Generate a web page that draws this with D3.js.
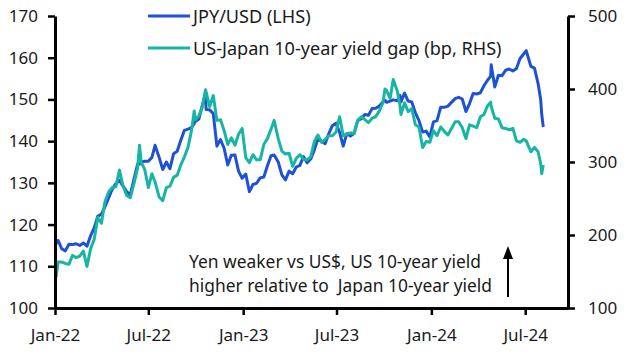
<!DOCTYPE html>
<html>
<head>
<meta charset="utf-8">
<script src="https://cdn.jsdelivr.net/npm/d3@7"></script>
<style>
  html, body { margin: 0; padding: 0; background: #fff; }
  svg { display: block; }
  text { font-family: "Noto Sans", "Open Sans", sans-serif; fill: #1a1a1a; }
</style>
</head>
<body>
<svg id="chart" width="631" height="354"></svg>
<script>
// ---------------- data ----------------
const dates = [
 "2022-01-03","2022-01-07","2022-01-14","2022-01-21","2022-01-28",
 "2022-02-04","2022-02-11","2022-02-18","2022-02-25",
 "2022-03-04","2022-03-11","2022-03-18","2022-03-25",
 "2022-04-01","2022-04-08","2022-04-15","2022-04-22","2022-04-29",
 "2022-05-06","2022-05-13","2022-05-20","2022-05-27",
 "2022-06-03","2022-06-10","2022-06-14","2022-06-17","2022-06-24",
 "2022-07-01","2022-07-08","2022-07-14","2022-07-22","2022-07-29",
 "2022-08-05","2022-08-12","2022-08-19","2022-08-26",
 "2022-09-02","2022-09-09","2022-09-16","2022-09-23","2022-09-28","2022-09-30",
 "2022-10-07","2022-10-14","2022-10-20","2022-10-21","2022-10-28",
 "2022-11-04","2022-11-11","2022-11-18","2022-11-25",
 "2022-12-02","2022-12-09","2022-12-16","2022-12-23","2022-12-30",
 "2023-01-06","2023-01-13","2023-01-20","2023-01-27",
 "2023-02-03","2023-02-10","2023-02-17","2023-02-24",
 "2023-03-02","2023-03-10","2023-03-17","2023-03-24","2023-03-31",
 "2023-04-07","2023-04-14","2023-04-21","2023-04-28",
 "2023-05-05","2023-05-12","2023-05-19","2023-05-26",
 "2023-06-02","2023-06-09","2023-06-16","2023-06-23","2023-06-30",
 "2023-07-07","2023-07-14","2023-07-21","2023-07-28",
 "2023-08-04","2023-08-11","2023-08-18","2023-08-25",
 "2023-09-01","2023-09-08","2023-09-15","2023-09-22","2023-09-29",
 "2023-10-03","2023-10-06","2023-10-13","2023-10-19","2023-10-27",
 "2023-11-01","2023-11-03","2023-11-10","2023-11-17","2023-11-24",
 "2023-12-01","2023-12-08","2023-12-15","2023-12-22","2023-12-29",
 "2024-01-05","2024-01-12","2024-01-19","2024-01-26",
 "2024-02-02","2024-02-09","2024-02-16","2024-02-23",
 "2024-03-01","2024-03-08","2024-03-15","2024-03-22","2024-03-29",
 "2024-04-05","2024-04-12","2024-04-19","2024-04-25","2024-04-26",
 "2024-05-03","2024-05-10","2024-05-17","2024-05-24","2024-05-31",
 "2024-06-07","2024-06-14","2024-06-21","2024-06-28",
 "2024-07-03","2024-07-12","2024-07-19","2024-07-26","2024-07-31",
 "2024-08-02","2024-08-05"
];
// JPY per USD (LHS)
const jpyUsd = [
 115.4,116.2,114.2,113.7,115.3,
 115.2,115.4,115.0,115.6,
 114.8,117.3,119.2,122.0,
 122.5,124.3,126.4,128.5,129.8,
 130.6,129.2,127.9,127.1,
 130.8,134.4,134.5,135.0,135.2,
 135.2,136.1,139.0,136.1,133.2,
 135.0,133.4,137.0,137.6,
 140.2,142.6,142.9,143.3,144.2,144.7,
 145.3,148.7,151.5,147.6,147.5,
 146.6,138.8,140.4,138.3,
 134.3,136.6,136.7,132.8,131.1,
 132.1,127.9,129.6,129.9,
 131.2,131.4,134.1,136.5,
 136.7,135.0,131.9,130.7,132.8,
 132.2,133.8,134.2,136.3,
 134.8,135.7,137.9,140.6,
 140.0,139.4,141.8,143.7,144.3,
 142.1,138.8,141.8,141.2,
 141.8,144.9,145.4,146.4,
 146.2,147.8,147.9,148.4,149.4,
 149.8,149.3,149.6,149.9,149.7,
 151.0,149.4,151.5,149.6,149.4,
 146.8,144.9,142.2,142.4,141.0,
 144.6,144.9,148.1,148.1,
 148.4,149.3,150.2,150.5,
 150.1,147.1,149.0,151.4,151.3,
 151.6,153.3,154.6,155.6,158.3,
 153.0,155.8,155.7,157.0,157.3,
 156.8,157.4,159.8,160.9,
 161.7,157.9,157.5,153.8,150.0,
 146.5,143.4
];
// US-Japan 10-year yield gap, bp (RHS)
const yieldGap = [
 142,163,163,161,160,
 172,169,171,178,
 157,181,194,224,
 216,246,259,265,266,
 289,267,254,251,
 270,291,323,300,290,
 265,284,273,252,247,
 265,267,279,282,
 296,307,320,344,370,358,
 363,376,399,396,376,
 391,357,358,343,
 324,333,323,338,346,
 306,299,310,303,
 303,324,332,345,
 357,332,315,311,312,
 294,305,310,304,
 303,307,328,337,
 327,331,336,336,341,
 362,336,338,340,
 339,357,362,358,
 354,360,362,370,381,
 400,398,387,413,397,
 378,365,381,369,373,
 351,348,320,328,327,
 343,336,348,342,
 337,346,355,355,
 347,332,351,349,347,
 362,365,377,382,376,
 360,359,347,346,344,
 346,329,327,331,
 329,314,320,314,298,
 284,296
];
const leftTicks = [100,110,120,130,140,150,160,170];
const rightTicks = [100,200,300,400,500];
const xTickDates = ["2022-01-01","2022-07-01","2023-01-01","2023-07-01","2024-01-01","2024-07-01"];
const xTickLabels = ["Jan-22","Jul-22","Jan-23","Jul-23","Jan-24","Jul-24"];
const seriesNames = ["JPY/USD (LHS)","US-Japan 10-year yield gap (bp, RHS)"];
const seriesColors = ["#1F52D2","#17B5A3"];
const annotation = ["Yen weaker vs US$, US 10-year yield","higher relative to\u00a0 Japan 10-year yield"];

// ---------------- chart ----------------
const parse = d3.utcParse("%Y-%m-%d");
const data = dates.map((d,i)=>({date: parse(d), jpy: jpyUsd[i], gap: yieldGap[i]}));

const svg = d3.select("#chart");
const L = 55, R = 568, T = 16, B = 308;

const x = d3.scaleUtc().domain([parse("2022-01-01"), parse("2024-09-22")]).range([L, R]);
const yL = d3.scaleLinear().domain([100,170]).range([B, T]);
const yR = d3.scaleLinear().domain([100,500]).range([B, T]);

// lines
const lineGap = d3.line().x(d=>x(d.date)).y(d=>yR(d.gap));
const lineJpy = d3.line().x(d=>x(d.date)).y(d=>yL(d.jpy));

svg.append("path").datum(data).attr("d", lineJpy)
  .attr("fill","none").attr("stroke",seriesColors[0]).attr("stroke-width",3)
  .attr("stroke-linejoin","round");
svg.append("path").datum(data).attr("d", lineGap)
  .attr("fill","none").attr("stroke",seriesColors[1]).attr("stroke-width",3)
  .attr("stroke-linejoin","round");

// axes
const fontSize = 17;
const fontFam = "'Noto Sans', 'Open Sans', sans-serif";
function styleAxis(g){
  g.select(".domain").attr("stroke","#000").attr("stroke-width",3);
  g.selectAll(".tick line").attr("stroke","#000").attr("stroke-width",2.5);
  g.selectAll(".tick text").attr("font-size",fontSize).attr("fill","#1a1a1a")
    .attr("font-family",fontFam);
}
svg.append("g").attr("transform",`translate(${L},0)`)
  .call(d3.axisLeft(yL).tickValues(leftTicks).tickSize(7).tickSizeOuter(0).tickPadding(10))
  .call(styleAxis);
svg.append("g").attr("transform",`translate(${R},0)`)
  .call(d3.axisRight(yR).tickValues(rightTicks).tickSize(7).tickSizeOuter(0).tickPadding(13))
  .call(styleAxis);
svg.append("g").attr("transform",`translate(0,${B})`)
  .call(d3.axisBottom(x).tickValues(xTickDates.map(parse)).tickSize(7).tickSizeOuter(0).tickPadding(14)
    .tickFormat((d,i)=>xTickLabels[i]))
  .call(styleAxis);

// legend
const legend = svg.append("g");
[16, 48].forEach((yy,i)=>{
  legend.append("line").attr("x1",148).attr("x2",190).attr("y1",yy).attr("y2",yy)
    .attr("stroke",seriesColors[i]).attr("stroke-width",3);
  legend.append("text").attr("x",193).attr("y",yy+6.5).attr("font-size",18.1)
    .text(seriesNames[i]);
});

// annotation
annotation.forEach((t,i)=>{
  svg.append("text").attr("x",189).attr("y",268 + i*24).attr("font-size",17.4).text(t);
});
svg.append("line").attr("x1",508).attr("x2",508).attr("y1",297).attr("y2",256)
  .attr("stroke","#000").attr("stroke-width",2);
svg.append("path").attr("d","M508,246 L503,259 L513,259 Z").attr("fill","#000");
</script>
</body>
</html>
